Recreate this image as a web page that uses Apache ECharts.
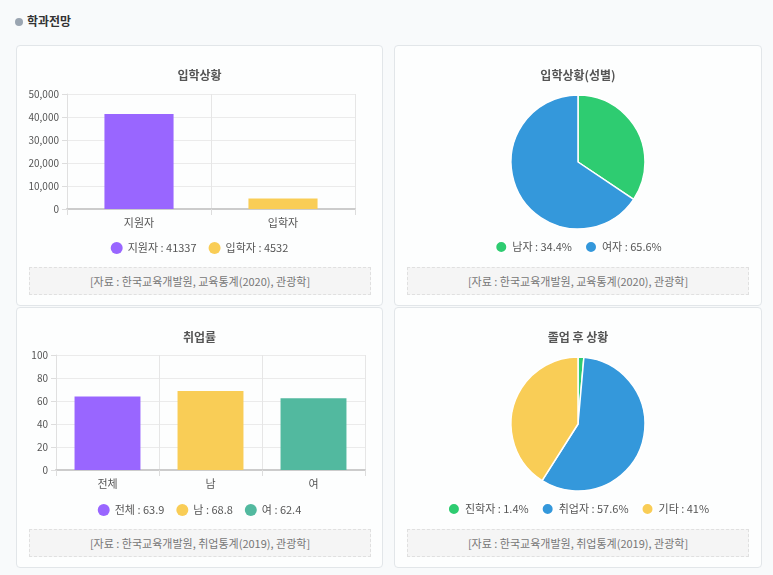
<!DOCTYPE html>
<html><head><meta charset="utf-8">
<script src="https://cdn.jsdelivr.net/npm/echarts@6/dist/echarts.min.js"></script>
<style>
body{margin:0;background:#f8fafb;font-family:"Noto Sans CJK KR","Noto Sans",sans-serif;width:773px;height:575px;position:relative;overflow:hidden}
.hd{position:absolute;left:15px;top:12px;font-size:12px;font-weight:bold;color:#333}
.hd span{display:inline-block;width:8px;height:8px;border-radius:50%;background:#9aa5b1;margin-right:4px}
.card{position:absolute;background:#fdfefe;border:1px solid #e2e6e9;border-radius:4px}
.ch{position:absolute;left:0;top:0;width:100%;height:215px}
.src{position:absolute;left:12px;top:221px;height:26px;line-height:26px;background:#f5f5f5;border:1px dashed #e0e0e0;text-align:center;font-size:11px;color:#777}
</style></head><body>
<div class="hd"><span></span>학과전망</div>
<div class="card" style="left:16px;top:45px;width:365px;height:259px"><div class="ch" id="c1"></div><div class="src" style="width:340px">[자료 : 한국교육개발원, 교육통계(2020), 관광학]</div></div>
<div class="card" style="left:394px;top:45px;width:366px;height:259px"><div class="ch" id="c2"></div><div class="src" style="width:340px">[자료 : 한국교육개발원, 교육통계(2020), 관광학]</div></div>
<div class="card" style="left:16px;top:307px;width:365px;height:259px"><div class="ch" id="c3"></div><div class="src" style="width:340px">[자료 : 한국교육개발원, 취업통계(2019), 관광학]</div></div>
<div class="card" style="left:394px;top:307px;width:366px;height:259px"><div class="ch" id="c4"></div><div class="src" style="width:340px">[자료 : 한국교육개발원, 취업통계(2019), 관광학]</div></div>
<script>
const admCats=['지원자','입학자'];
const admVals=[41337,4532];
const admColors=['#9966ff','#f9cd56'];
const genderCats=['남자','여자'];
const genderVals=[34.4,65.6];
const genderColors=['#2ecc71','#3498db'];
const empCats=['전체','남','여'];
const empVals=[63.9,68.8,62.4];
const empColors=['#9966ff','#f9cd56','#52b99f'];
const afterCats=['진학자','취업자','기타'];
const afterVals=[1.4,57.6,41];
const afterColors=['#2ecc71','#3498db','#f9cd56'];
const FONT='"Noto Sans CJK KR","Noto Sans",sans-serif';
const title=t=>({text:t,left:'center',top:18,textStyle:{fontSize:12,fontWeight:'bold',color:'#555',fontFamily:FONT}});
const legend=(fmt)=>({bottom:2,left:'center',icon:'circle',itemWidth:12,itemHeight:12,itemGap:12,textStyle:{fontSize:11,color:'#555',fontFamily:FONT},formatter:fmt});
function barChart(id,t,cats,vals,colors,max,interval,grid,bw){
  const series=cats.map((c,i)=>({name:c,type:'bar',stack:'s',barWidth:bw,itemStyle:{color:colors[i]},data:cats.map((_,j)=>j===i?vals[i]:null)}));
  const m={};cats.forEach((c,i)=>m[c]=vals[i]);
  echarts.init(document.getElementById(id)).setOption({
    animation:false,title:title(t),grid:grid,
    legend:legend(n=>n+' : '+m[n]),
    xAxis:{type:'category',data:cats,axisTick:{show:true,alignWithLabel:false,length:6,lineStyle:{color:'#ddd'}},axisLine:{lineStyle:{color:'#ccc',width:2}},splitLine:{show:true,lineStyle:{color:'#e6e6e6'}},axisLabel:{color:'#555',fontSize:11,fontFamily:FONT}},
    yAxis:{type:'value',min:0,max:max,interval:interval,axisLine:{show:true,lineStyle:{color:'#e0e0e0'}},axisTick:{show:true,length:5,lineStyle:{color:'#ddd'}},splitLine:{lineStyle:{color:'#ebebeb'}},axisLabel:{color:'#555',fontSize:10,fontFamily:FONT}},
    series:series});
}
function pieChart(id,t,cats,vals,colors){
  const m={};cats.forEach((c,i)=>m[c]=vals[i]);
  echarts.init(document.getElementById(id)).setOption({
    animation:false,title:title(t),
    legend:legend(n=>n+' : '+m[n]+'%'),
    series:[{type:'pie',center:[183,116],radius:67,clockwise:true,startAngle:90,label:{show:false},labelLine:{show:false},
      itemStyle:{borderColor:'#fff',borderWidth:1.5},
      data:cats.map((c,i)=>({name:c,value:vals[i],itemStyle:{color:colors[i]}}))}]});
}
barChart('c1','입학상황',admCats,admVals,admColors,50000,10000,{left:50,right:27,top:48,bottom:52},'48%');
pieChart('c2','입학상황(성별)',genderCats,genderVals,genderColors);
barChart('c3','취업률',empCats,empVals,empColors,100,20,{left:39,right:17,top:47,bottom:53},'64%');
pieChart('c4','졸업 후 상황',afterCats,afterVals,afterColors);
</script></body></html>
